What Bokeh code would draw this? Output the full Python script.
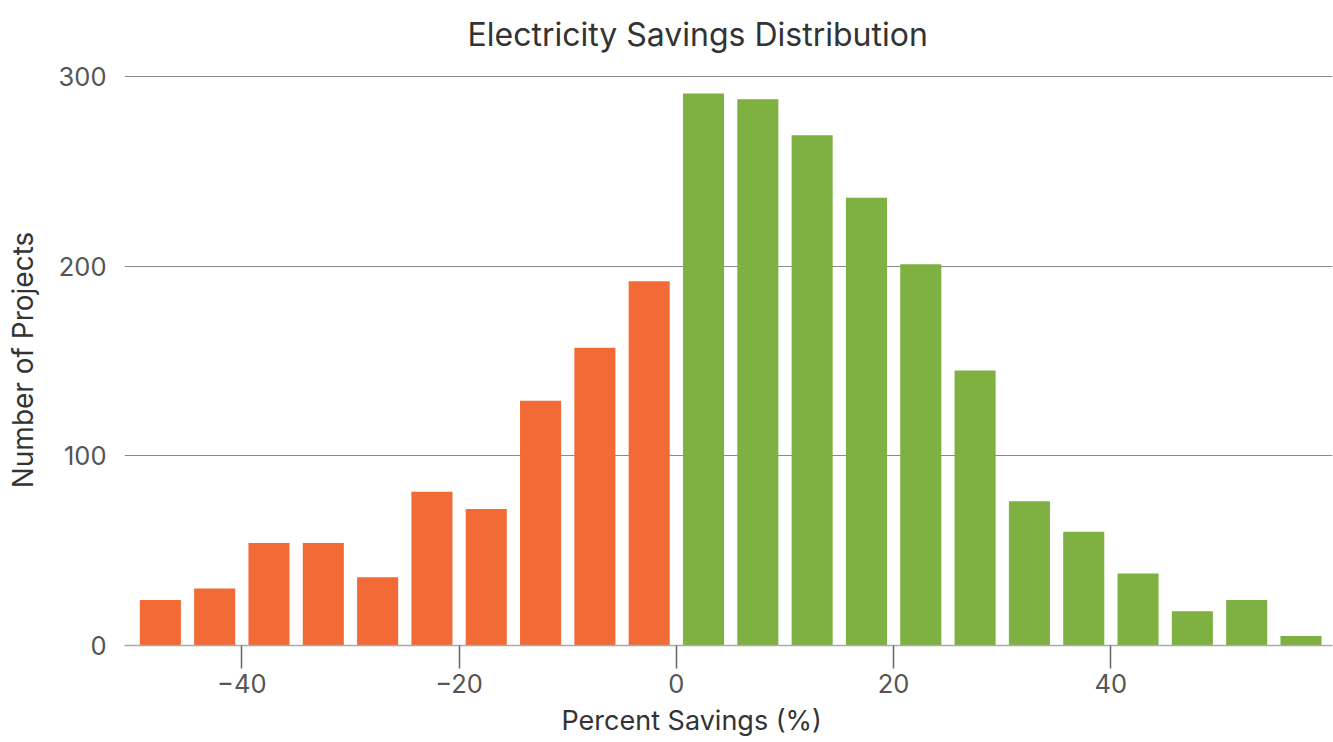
from bokeh.plotting import figure
from bokeh.models import ColumnDataSource, Title, FixedTicker, Range1d
from bokeh.embed import file_html
from bokeh.resources import INLINE

# Data
bin_centers = [-47.5, -42.5, -37.5, -32.5, -27.5, -22.5, -17.5, -12.5, -7.5, -2.5,
               2.5, 7.5, 12.5, 17.5, 22.5, 27.5, 32.5, 37.5, 42.5, 47.5, 52.5, 57.5]
counts = [24, 30, 54, 54, 36, 81, 72, 129, 157, 192,
          291, 288, 269, 236, 201, 145, 76, 60, 38, 18, 24, 5]
x_ticks = [-40, -20, 0, 20, 40]
y_ticks = [0, 100, 200, 300]
title_text = "Electricity Savings Distribution"
x_label = "Percent Savings (%)"
y_label = "Number of Projects"

NEG = "#F26A36"
POS = "#7EB141"
colors = [NEG if c < 0 else POS for c in bin_centers]

src = ColumnDataSource(dict(x=bin_centers, top=counts, color=colors))

FONT = "Inter"

p = figure(width=1333, height=742, output_backend="svg", toolbar_location=None,
           x_range=Range1d(-50.8, 60.4), y_range=Range1d(0, 301),
           min_border_left=124, min_border_right=1, min_border_top=74,
           min_border_bottom=97)
p.outline_line_color = None
p.background_fill_color = "white"
p.border_fill_color = "white"

p.vbar(x="x", top="top", bottom=0, width=3.78, color="color", line_color=None, source=src)

# grid
p.xgrid.grid_line_color = None
p.ygrid.grid_line_color = "#8a8a8a"
p.ygrid.grid_line_width = 1
p.ygrid.ticker = FixedTicker(ticks=y_ticks)

# x axis
p.xaxis.ticker = FixedTicker(ticks=x_ticks)
p.xaxis.axis_line_color = "#aaaaaa"
p.xaxis.axis_line_width = 1.5
p.xaxis.major_tick_line_color = "#666666"
p.xaxis.major_tick_line_width = 1.5
p.xaxis.major_tick_out = 23
p.xaxis.major_tick_in = 0
p.xaxis.minor_tick_line_color = None
p.xaxis.major_label_text_font = FONT
p.xaxis.major_label_text_font_size = "25.5px"
p.xaxis.major_label_text_color = "#555555"
p.xaxis.major_label_standoff = 5

# y axis
p.yaxis.ticker = FixedTicker(ticks=y_ticks)
p.yaxis.axis_line_color = None
p.yaxis.major_tick_line_color = None
p.yaxis.minor_tick_line_color = None
p.yaxis.major_label_text_font = FONT
p.yaxis.major_label_text_font_size = "25.5px"
p.yaxis.major_label_text_color = "#555555"
p.yaxis.major_label_standoff = 12
p.yaxis.axis_label = y_label
p.yaxis.axis_label_text_font = FONT
p.yaxis.axis_label_text_font_size = "28px"
p.yaxis.axis_label_text_font_style = "normal"
p.yaxis.axis_label_text_color = "#333333"
p.yaxis.axis_label_standoff = 16

# spacer between frame and title (keeps the title higher up)
p.add_layout(Title(text=" ", text_font_size="16px", standoff=0), "above")

# title (above) and x-axis label (below) as titles, positioned by left offset
p.title = Title(text=title_text, align="left", offset=343, vertical_align="bottom",
                text_font=FONT, text_font_size="32px", text_font_style="normal",
                text_color="#333333", standoff=4)
p.add_layout(Title(text=x_label, align="left", offset=437,
                   text_font=FONT, text_font_size="27px", text_font_style="normal",
                   text_color="#333333", standoff=12), "below")

open("out.html", "w").write(file_html(p, INLINE))
